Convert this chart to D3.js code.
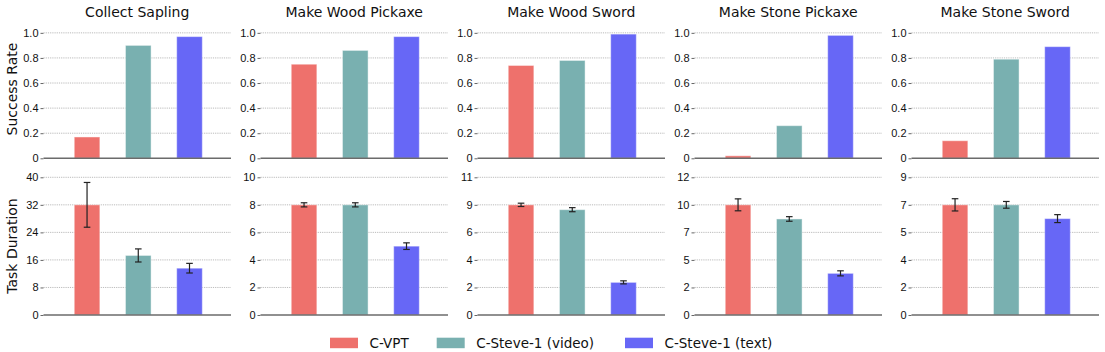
<!DOCTYPE html>
<html>
<head>
<meta charset="utf-8">
<script src="https://cdn.jsdelivr.net/npm/d3@7"></script>
<style>
  body { margin: 0; background: #fff; }
  svg { font-family: "DejaVu Sans", sans-serif; }
</style>
</head>
<body>
<div id="chart"></div>
<script>
// data
const tasks = ["Collect Sapling", "Make Wood Pickaxe", "Make Wood Sword", "Make Stone Pickaxe", "Make Stone Sword"];
const methods = ["C-VPT", "C-Steve-1 (video)", "C-Steve-1 (text)"];
const colors = ["#EE716C", "#79B0B0", "#6767F6"];

const successRate = [
  [0.17, 0.90, 0.97],
  [0.75, 0.86, 0.97],
  [0.74, 0.78, 0.99],
  [0.02, 0.26, 0.98],
  [0.14, 0.79, 0.89]
];
const successTicks = [0, 0.2, 0.4, 0.6, 0.8, 1.0];
const successTickLabels = ["0", "0.2", "0.4", "0.6", "0.8", "1.0"];

const duration = [
  [32.0, 17.3, 13.6],
  [8.0, 8.0, 5.0],
  [8.64, 8.26, 2.56],
  [9.6, 8.37, 3.63],
  [7.2, 7.2, 6.3]
];
const durationErr = [
  [6.5, 1.9, 1.4],
  [0.15, 0.15, 0.24],
  [0.13, 0.16, 0.12],
  [0.52, 0.2, 0.22],
  [0.4, 0.22, 0.26]
];
const durationMax = [40, 10, 10.8, 12, 9];
const durationTickLabels = [
  ["0", "8", "16", "24", "32", "40"],
  ["0", "2", "4", "6", "8", "10"],
  ["0", "2", "4", "6", "9", "11"],
  ["0", "2", "5", "7", "10", "12"],
  ["0", "2", "4", "5", "7", "9"]
];

const W = 1105, H = 352;
const panelLeft = 43.5, panelStep = 217, panelWidth = 187.5;

const svg = d3.select("#chart").append("svg")
  .attr("width", W)
  .attr("height", H);

const x = d3.scaleLinear().domain([-0.85, 2.81]);
const barW = 0.5;

// one row of panels
function drawRow(values, errs, yTop, yBottom, domainMax, tickVals, tickLabels) {
  tasks.forEach(function(t, i) {
    var left = panelLeft + i * panelStep;
    var xs = x.copy().range([left, left + panelWidth]);
    var y = d3.scaleLinear().domain([0, domainMax(i)]).range([yBottom, yTop]);
    var g = svg.append("g");

    // dotted grid
    g.selectAll(".grid")
      .data(tickVals(i).slice(1))
      .enter().append("line")
      .attr("x1", left).attr("x2", left + panelWidth)
      .attr("y1", d => y(d)).attr("y2", d => y(d))
      .style("stroke", "#aaa")
      .style("stroke-width", 0.8)
      .style("stroke-dasharray", "1.2,1");

    // y axis
    var axis = d3.axisLeft(y)
      .tickValues(tickVals(i))
      .tickFormat((d, k) => tickLabels(i)[k])
      .tickSize(3)
      .tickPadding(2);
    var ag = g.append("g")
      .attr("transform", "translate(" + left + ",0)")
      .call(axis);
    ag.select(".domain").remove();
    ag.selectAll(".tick line").style("stroke", "#666");
    ag.selectAll(".tick text")
      .style("font-size", "11px")
      .style("fill", "#111");

    // bars
    g.selectAll(".bar")
      .data(values[i])
      .enter().append("rect")
      .attr("x", (d, k) => xs(k - barW / 2))
      .attr("y", d => y(d))
      .attr("width", xs(barW) - xs(0))
      .attr("height", d => y(0) - y(d))
      .style("fill", (d, k) => colors[k])
      .style("stroke", "rgba(255,255,255,0.45)")
      .style("stroke-width", 1);

    // zero line
    g.append("line")
      .attr("x1", left).attr("x2", left + panelWidth)
      .attr("y1", y(0)).attr("y2", y(0))
      .style("stroke", "#6b6b6b")
      .style("stroke-width", 1.5);

    // error bars
    if (errs) {
      var eg = g.selectAll(".err")
        .data(values[i].map((v, k) => ({k: k, v: v, e: errs[i][k]})))
        .enter().append("g")
        .style("stroke", "#222")
        .style("stroke-width", 1.2);
      eg.append("line")
        .attr("x1", d => xs(d.k)).attr("x2", d => xs(d.k))
        .attr("y1", d => y(d.v - d.e)).attr("y2", d => y(d.v + d.e));
      eg.append("line")
        .attr("x1", d => xs(d.k) - 3.3).attr("x2", d => xs(d.k) + 3.3)
        .attr("y1", d => y(d.v - d.e)).attr("y2", d => y(d.v - d.e));
      eg.append("line")
        .attr("x1", d => xs(d.k) - 3.3).attr("x2", d => xs(d.k) + 3.3)
        .attr("y1", d => y(d.v + d.e)).attr("y2", d => y(d.v + d.e));
    }
  });
}

drawRow(successRate, null, 20.3, 158.3,
  i => 1.1, i => successTicks, i => successTickLabels);
drawRow(duration, durationErr, 177.3, 315,
  i => durationMax[i],
  i => d3.range(6).map(k => durationMax[i] * k / 5),
  i => durationTickLabels[i]);

// titles
svg.selectAll(".title")
  .data(tasks)
  .enter().append("text")
  .attr("x", (d, i) => panelLeft + i * panelStep + panelWidth / 2)
  .attr("y", 16.7)
  .style("text-anchor", "middle")
  .style("font-size", "14px")
  .style("fill", "#111")
  .text(d => d);

// y labels
[["Success Rate", 89], ["Task Duration", 246]].forEach(function(l) {
  svg.append("text")
    .attr("transform", "translate(17," + l[1] + ") rotate(-90)")
    .style("text-anchor", "middle")
    .style("font-size", "14px")
    .style("fill", "#111")
    .text(l[0]);
});

// legend
const legendX = [330, 436.7, 625];
const lg = svg.selectAll(".legend")
  .data(methods)
  .enter().append("g")
  .attr("transform", (d, i) => "translate(" + legendX[i] + ",0)");
lg.append("rect")
  .attr("x", 0).attr("y", 337.7)
  .attr("width", 28).attr("height", 10.5)
  .style("fill", (d, i) => colors[i]);
lg.append("text")
  .attr("x", 39.5).attr("y", 348)
  .style("font-size", "13.5px")
  .style("fill", "#111")
  .text(d => d);
</script>
</body>
</html>
